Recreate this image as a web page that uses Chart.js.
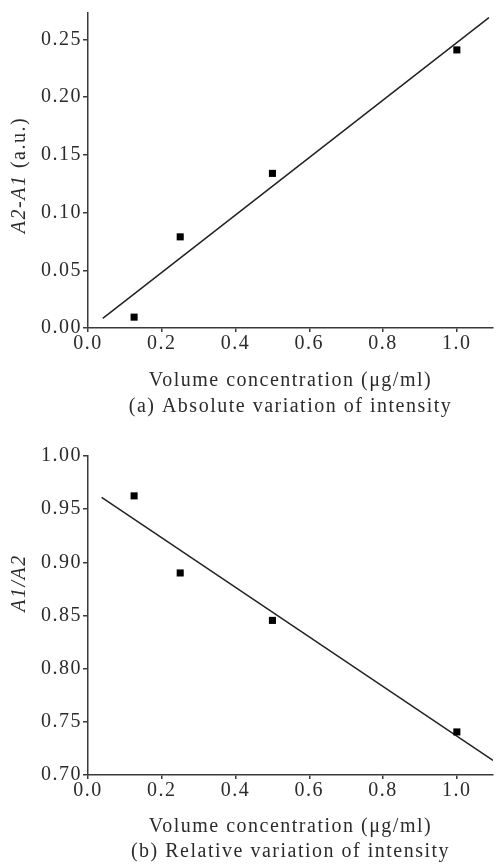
<!DOCTYPE html>
<html>
<head>
<meta charset="utf-8">
<script src="https://cdn.jsdelivr.net/npm/chart.js@4/dist/chart.umd.min.js"></script>
<style>
  html, body { margin: 0; padding: 0; background: #fff; }
  .panel { position: relative; width: 498px; }
  #top { height: 420px; }
  #bottom { height: 448px; }
</style>
</head>
<body>
<div class="panel" id="top"><canvas id="chart-abs"></canvas></div>
<div class="panel" id="bottom"><canvas id="chart-rel"></canvas></div>
<script>
// ── Dados ─────────────────────────────────────────────
const concentrations = [0.125, 0.25, 0.5, 1.0];
const absVariation = [0.0094, 0.079, 0.134, 0.241];
const relVariation = [0.9625, 0.890, 0.8454, 0.7405];

// retas de ajuste (extremos como aparecem no desenho)
const absFitX = [0.04, 1.087];
const absFitY = [0.0083, 0.269];
const relFitX = [0.037, 1.098];
const relFitY = [0.961, 0.7137];

const xTicksLabel = 'Volume concentration (μg/ml)';
const captions = ['(a) Absolute variation of intensity', '(b) Relative variation of intensity'];

// ── Estilo ────────────────────────────────────────────
const FONT_FAMILY = '"Liberation Serif", "Times New Roman", serif';
const FONT_SIZE = 20;
const SPACING = '1.5px';
const TEXT = '#2b2b2b';
const AXIS = '#3a3a3a';

const spacingPlugin = {
  id: 'spacing',
  beforeUpdate(chart) { chart.ctx.letterSpacing = SPACING; },
  beforeDraw(chart) { chart.ctx.letterSpacing = SPACING; },
};

// títulos dos eixos + legenda da figura (y com trechos em itálico)
const labelsPlugin = {
  id: 'labels',
  afterDraw(chart, args, opts) {
    const { ctx, chartArea } = chart;
    ctx.save();
    ctx.letterSpacing = SPACING;
    ctx.fillStyle = TEXT;
    ctx.textAlign = 'center';
    ctx.textBaseline = 'alphabetic';
    ctx.font = `${FONT_SIZE}px ${FONT_FAMILY}`;
    const cx = (chartArea.left + chartArea.right) / 2;
    ctx.fillText(opts.xTitle, cx, chartArea.bottom + opts.xTitleGap);
    ctx.fillText(opts.caption, cx, chartArea.bottom + opts.captionGap);

    ctx.translate(opts.yTitleX, opts.yTitleY);
    ctx.rotate(-Math.PI / 2);
    ctx.textAlign = 'left';
    ctx.textBaseline = 'middle';
    const fontFor = (italic) => `${italic ? 'italic ' : ''}${FONT_SIZE}px ${FONT_FAMILY}`;
    let total = 0;
    opts.yTitle.forEach(([txt, italic]) => {
      ctx.font = fontFor(italic);
      total += ctx.measureText(txt).width;
    });
    let x = -total / 2;
    opts.yTitle.forEach(([txt, italic]) => {
      ctx.font = fontFor(italic);
      ctx.fillText(txt, x, 0);
      x += ctx.measureText(txt).width;
    });
    ctx.restore();
  },
};

function pointsOf(xs, ys) {
  return xs.map((x, i) => ({ x, y: ys[i] }));
}

function axisOptions(c) {
  const tickFont = { family: FONT_FAMILY, size: FONT_SIZE };
  return {
    x: {
      type: 'linear',
      min: 0,
      max: c.xMax,
      afterFit: (s) => { s.height = c.xHeight; },
      grid: { drawOnChartArea: false, drawTicks: true, tickLength: 4, color: AXIS, lineWidth: 1.5 },
      border: { color: AXIS, width: 1.5 },
      ticks: {
        stepSize: 0.2,
        includeBounds: false,
        color: TEXT,
        font: tickFont,
        padding: 0,
        maxRotation: 0,
        callback: (v) => Number(v).toFixed(1),
      },
    },
    y: {
      type: 'linear',
      min: c.yMin,
      max: c.yMax,
      afterFit: (s) => { s.width = 88; },
      grid: { drawOnChartArea: false, drawTicks: true, tickLength: 5, color: AXIS, lineWidth: 1.5 },
      border: { color: AXIS, width: 1.5 },
      ticks: {
        stepSize: 0.05,
        includeBounds: false,
        color: TEXT,
        font: tickFont,
        padding: 1,
        callback: (v) => Number(v).toFixed(2),
      },
    },
  };
}

function makeChart(canvas, c) {
  return new Chart(canvas, {
    type: 'scatter',
    data: {
      datasets: [
        {
          data: pointsOf(concentrations, c.values),
          pointStyle: 'rect',
          pointRadius: 5,
          pointBorderWidth: 0,
          pointBackgroundColor: '#000',
          showLine: false,
        },
        {
          data: pointsOf(c.fitX, c.fitY),
          showLine: true,
          pointRadius: 0,
          borderColor: '#222',
          borderWidth: 1.5,
        },
      ],
    },
    options: {
      responsive: true,
      maintainAspectRatio: false,
      animation: false,
      layout: { padding: { top: c.top, right: 0, bottom: 0, left: 0 } },
      scales: axisOptions(c),
      plugins: {
        legend: { display: false },
        tooltip: { enabled: false },
        labels: {
          xTitle: xTicksLabel,
          caption: c.caption,
          xTitleGap: c.xTitleGap,
          captionGap: c.captionGap,
          yTitle: c.yTitle,
          yTitleX: 20,
          yTitleY: c.yTitleY,
        },
      },
    },
    plugins: [spacingPlugin, labelsPlugin],
  });
}

makeChart(document.getElementById('chart-abs'), {
  values: absVariation,
  fitX: absFitX,
  fitY: absFitY,
  xMax: 1.098,
  yMin: 0,
  yMax: 0.273,
  top: 9,
  xHeight: 92,
  xTitleGap: 58,
  captionGap: 84,
  caption: captions[0],
  yTitle: [['A2-A1', true], [' (a.u.)', false]],
  yTitleY: 175,
});

makeChart(document.getElementById('chart-rel'), {
  values: relVariation,
  fitX: relFitX,
  fitY: relFitY,
  xMax: 1.098,
  yMin: 0.7,
  yMax: 1.0,
  top: 36,
  xHeight: 93,
  xTitleGap: 57,
  captionGap: 82,
  caption: captions[1],
  yTitle: [['A1/A2', true]],
  yTitleY: 163,
});
</script>
</body>
</html>
